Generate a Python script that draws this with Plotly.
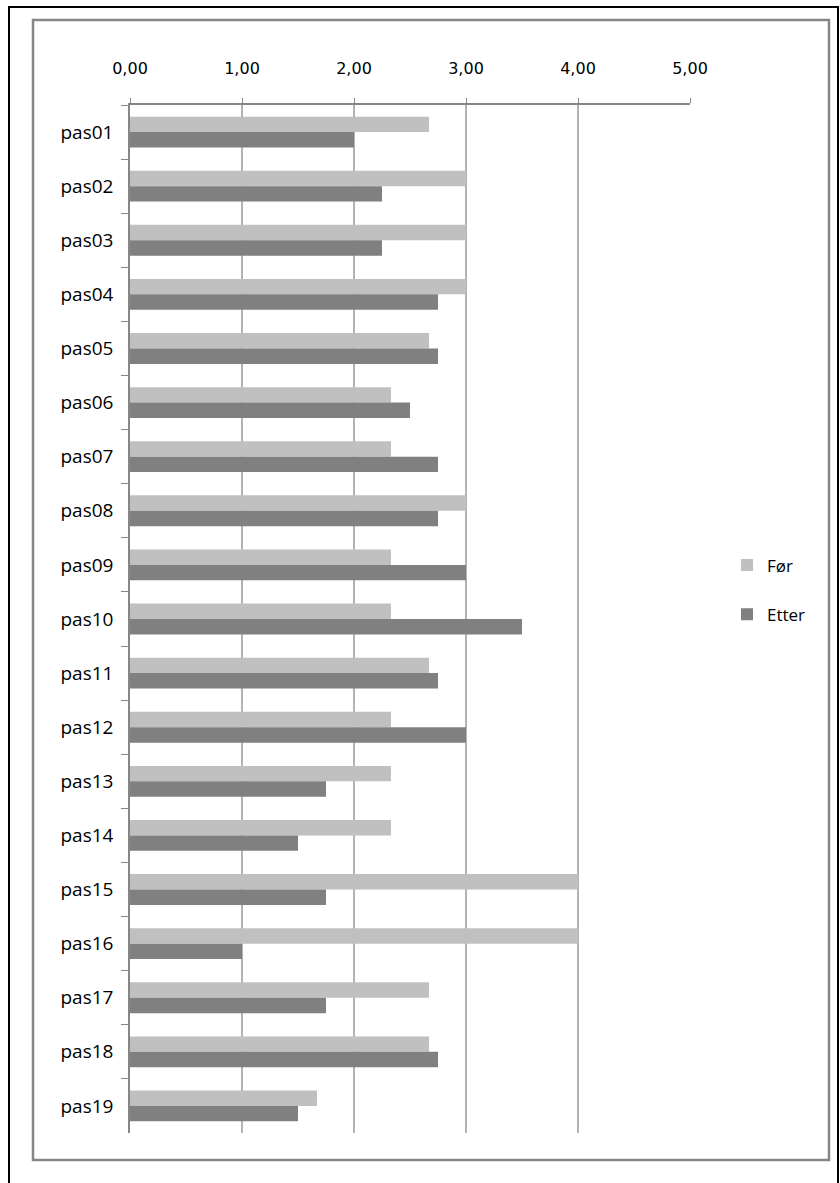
import plotly.graph_objects as go

categories = [f"pas{i:02d}" for i in range(1, 20)]
for_values = [2.67, 3.00, 3.00, 3.00, 2.67, 2.33, 2.33, 3.00, 2.33, 2.33,
              2.67, 2.33, 2.33, 2.33, 4.00, 4.00, 2.67, 2.67, 1.67]
etter_values = [2.00, 2.25, 2.25, 2.75, 2.75, 2.50, 2.75, 2.75, 3.00, 3.50,
                2.75, 3.00, 1.75, 1.50, 1.75, 1.00, 1.75, 2.75, 1.50]
tick_vals = [0, 1, 2, 3, 4, 5]
tick_text = ["0,00", "1,00", "2,00", "3,00", "4,00", "5,00"]

fig = go.Figure()
fig.add_trace(go.Bar(y=categories, x=for_values, name="Før", orientation="h",
                     marker=dict(color="#c0c0c0", line=dict(width=0)),
                     legendgroup="a"))
fig.add_trace(go.Bar(y=categories, x=etter_values, name="Etter", orientation="h",
                     marker=dict(color="#808080", line=dict(width=0)),
                     legendgroup="b"))

W, H = 840, 1183
L, R, T, B = 130, 690, 105, 1133

def px(xp):
    return (xp - L) / (R - L)

def py(yp):
    return (B - yp) / (B - T)

shapes = [
    dict(type="rect", xref="paper", yref="paper", x0=px(9), x1=px(838), y0=py(1195), y1=py(7),
         line=dict(color="black", width=2), fillcolor="rgba(0,0,0,0)", layer="below"),
    dict(type="rect", xref="paper", yref="paper", x0=px(33), x1=px(829), y0=py(1160), y1=py(20),
         line=dict(color="#868686", width=2.5), fillcolor="rgba(0,0,0,0)", layer="below"),
]

fig.update_layout(
    width=W, height=H,
    margin=dict(l=L, r=W - R, t=T, b=H - B),
    paper_bgcolor="white", plot_bgcolor="white",
    barmode="group", bargap=0.43, bargroupgap=0,
    font=dict(family="Open Sans", color="black"),
    showlegend=True,
    legend=dict(x=px(727), xanchor="left", y=py(590), yanchor="middle",
                traceorder="grouped", tracegroupgap=24,
                font=dict(family="Open Sans", size=17, color="black"),
                bgcolor="rgba(0,0,0,0)"),
    shapes=shapes,
    xaxis=dict(side="top", range=[0, 5], tickvals=tick_vals, ticktext=tick_text,
               showgrid=True, gridcolor="#b3b3b3", gridwidth=1.5,
               showline=True, linecolor="#868686", linewidth=1.5,
               ticks="outside", ticklen=5, tickcolor="#868686",
               ticklabelstandoff=18,
               tickfont=dict(family="DejaVu Sans", size=16, color="black"),
               zeroline=False, fixedrange=True),
    yaxis=dict(autorange="reversed", type="category",
               showline=True, linecolor="#868686", linewidth=1.5,
               ticks="outside", ticklen=7, tickcolor="#868686", tickson="boundaries",
               tickfont=dict(family="Open Sans", size=19, color="black"),
               ticklabelstandoff=11,
               showgrid=False, zeroline=False),
)

fig.write_html("out.html")
